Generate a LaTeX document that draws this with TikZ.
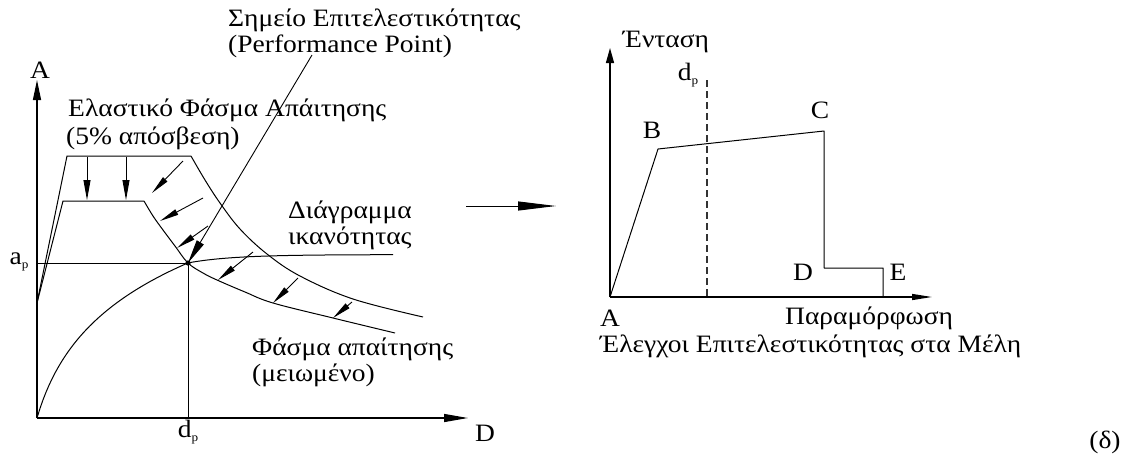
\documentclass[tikz,border=0pt]{standalone}
\usepackage{fontspec}
\setmainfont{Liberation Serif}[FakeStretch=1.1]
\usetikzlibrary{arrows.meta}
\newcommand{\subp}{\raisebox{-0.18em}{\fontsize{12}{12}\selectfont p}}
\tikzset{
  crv/.style={line width=1pt, line join=round},
  axisarrow/.style={line width=1.3pt, -{Triangle[length=20pt,width=8pt]}},
  dart/.style={line width=0.9pt, -{Triangle[length=19pt,width=6pt]}},
  lbl/.style={font=\fontsize{25}{26}\selectfont, inner sep=0pt},
}
\begin{document}
\begin{tikzpicture}[x=1pt,y=-1pt]
\useasboundingbox (0,0) rectangle (1138,461);

% ---------- left chart ----------
\coordinate (O) at (37,418);
\coordinate (Ytop) at (37,80);
\coordinate (Xend) at (468,418);
\coordinate (pp) at (188,263);
\coordinate (ppx) at (188,418);
\coordinate (ppy) at (37,263);

\draw[axisarrow] (O) -- (Ytop);
\draw[axisarrow,-{Triangle[length=24pt,width=8pt]}] (O) -- (Xend);
\draw[crv] (ppy) -- (pp) -- (ppx);

% capacity curve
\draw[crv] plot[domain=0:151,samples=50] ({37+\x},{418-75.2*ln(1+\x/22)})
  -- plot[domain=151:356,samples=40] ({37+\x},{418-155.1-8.3*(1-exp(-(\x-151)/45))});

% elastic demand spectrum
\draw[crv] (37,303) -- (67,156) -- (191,156)
  plot[smooth,tension=0.6] coordinates {(191,156) (205,180) (220,203) (240,229) (267,254) (300,276) (353,299) (423,317)};

% reduced demand spectrum
\draw[crv] (37,303) -- (63,201) -- (144,201)
  plot[smooth,tension=0.6] coordinates {(144,201) (153,216) (163,230) (175,246) (188,263) (203,273) (217,280) (245,292) (273,303) (333,318) (395,333)};

% reduction arrows
\draw[dart,-{Triangle[length=20pt,width=7pt]}] (87,157) -- (87,200);
\draw[dart,-{Triangle[length=20pt,width=7pt]}] (126,157) -- (126,200);
\draw[dart] (183,161) -- (152,193);
\draw[dart] (203,198) -- (160,221);
\draw[dart] (208,226) -- (177,248);
\draw[dart] (253,252) -- (218,280);
\draw[dart] (298,278) -- (273,303);
\draw[dart] (352,302) -- (333,318);

% performance point pointer
\coordinate (pptop) at (312,55);
\draw[line width=0.9pt, -{Triangle[length=24pt,width=8pt]}] (pptop) -- (pp);
\fill (pp) circle (2.6pt);

% labels
\node[lbl,anchor=west] (t1) at (228,20) {Σημείο Επιτελεστικότητας};
\node[lbl,anchor=west] (t2) at (228,46) {(Performance Point)};
\node[lbl] (lA) at (40,70) {A};
\node[lbl,anchor=west] (t3) at (68,110) {Ελαστικό Φάσμα Απάιτησης};
\node[lbl,anchor=west] (t4) at (66,138) {(5\% απόσβεση)};
\node[lbl,anchor=west] (t5) at (288,212) {Διάγραμμα};
\node[lbl,anchor=west] (t6) at (288,238) {ικανότητας};
\node[lbl] (lap) at (19,262) {a\subp};
\node[lbl] (ldp) at (188,432) {d\subp};
\node[lbl] (lD) at (485,433) {D};
\node[lbl,anchor=west] (t7) at (252,349) {Φάσμα απαίτησης};
\node[lbl,anchor=west] (t8) at (252,375) {(μειωμένο)};

% middle arrow
\coordinate (m1) at (466,206);
\coordinate (m2) at (556,206);
\draw[line width=1pt, -{Triangle[length=38pt,width=9pt]}] (m1) -- (m2);

% ---------- right chart ----------
\coordinate (A) at (610,297);
\coordinate (B) at (658,149);
\coordinate (C) at (824,131);
\coordinate (D) at (824,268);
\coordinate (E) at (883,268);
\coordinate (E0) at (883,297);
\coordinate (RY) at (610,48);
\coordinate (RX) at (932,297);
\coordinate (dpt) at (707,80);
\coordinate (dpb) at (707,297);

\draw[line width=1.3pt, -{Triangle[length=15pt,width=8pt]}] (A) -- (RY);
\draw[line width=1.3pt, -{Triangle[length=20pt,width=6pt]}] (A) -- (RX);
\draw[crv] (A) -- (B) -- (C) -- (D) -- (E) -- (E0);
\draw[line width=1.4pt, black!80, dash pattern=on 7pt off 4pt] (dpt) -- (dpb);

\node[lbl] (lEnt) at (666,42) {Ένταση};
\node[lbl] (ldp2) at (688,75) {d\subp};
\node[lbl] (lB) at (652,130) {B};
\node[lbl] (lC) at (820,110) {C};
\node[lbl] (lDr) at (803,272) {D};
\node[lbl] (lE) at (898,272) {E};
\node[lbl] (lAr) at (610,318) {A};
\node[lbl,anchor=west] (t9) at (785,318) {Παραμόρφωση};
\node[lbl,anchor=west] (t10) at (600,346) {Έλεγχοι Επιτελεστικότητας στα Μέλη};
\node[lbl] (ldelta) at (1105,442) {(δ)};
\end{tikzpicture}
\end{document}
